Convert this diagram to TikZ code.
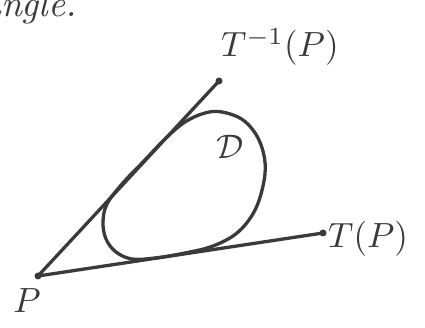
\documentclass[tikz,border=0pt]{standalone}
\usepackage{graphicx}
\begin{document}
\begin{tikzpicture}[x=1pt,y=-1pt,
  ink/.style={draw=inkc,line width=3.3pt,line cap=round,line join=round},
  dot/.style={circle,fill=inkc,inner sep=0pt,minimum size=7pt},
  lbl/.style={text=inkc,inner sep=0pt}]
\definecolor{inkc}{HTML}{3A3A3A}
\useasboundingbox (0,0) rectangle (425,328);
\coordinate (p) at (38,276);
\coordinate (ti) at (219,81);
\coordinate (t) at (323,233);
\node[dot] (pd) at (p) {};
\node[dot] (tid) at (ti) {};
\node[dot] (td) at (t) {};
\draw[ink] (p) -- (ti);
\draw[ink] (p) -- (t);
\draw[ink] plot[smooth cycle,tension=0.6] coordinates {
  (165,139) (185,122) (205,113) (222,112) (243,120) (258,138) (265,162)
  (263,186) (254,212) (237,233) (213,246) (185,253) (155,258) (132,259)
  (116,252) (106,239) (103,222) (107,204) (122,184) (143,162)};
\node[lbl,anchor=base west] (lti) at (221,57) {\scalebox{3.5}{$T^{-1}(P)$}};
\node[lbl,anchor=base west] (lt) at (328,248) {\scalebox{3.5}{$T(P)$}};
\node[lbl,anchor=base] (lp) at (27,312) {\scalebox{3.5}{$P$}};
\node[lbl] (ld) at (230,147) {\scalebox{3.4}{$\mathcal{D}$}};
\node[lbl,anchor=base west] (top) at (-18,17) {\scalebox{3.7}{\textit{angle.}}};
\end{tikzpicture}
\end{document}
